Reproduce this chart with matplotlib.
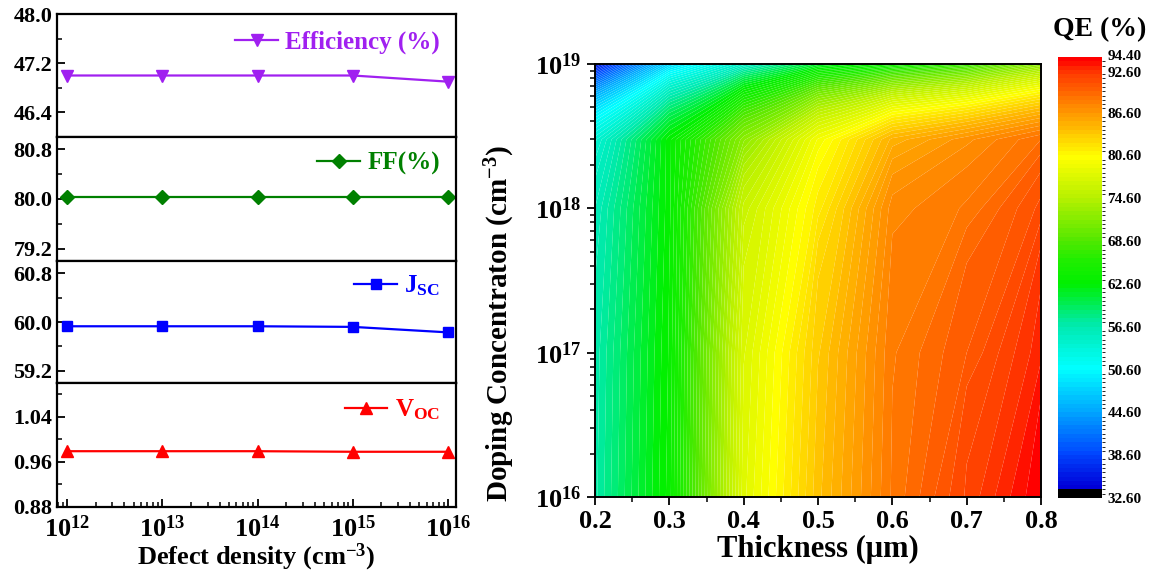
import numpy as np
import matplotlib
matplotlib.use('Agg')
import matplotlib.pyplot as plt
from matplotlib.colors import LinearSegmentedColormap, ListedColormap, BoundaryNorm
from matplotlib.ticker import FixedLocator, MultipleLocator, LogLocator, NullFormatter, FuncFormatter
from matplotlib.transforms import ScaledTranslation

# ---------------- data ----------------
defect_density = [1e12, 1e13, 1e14, 1e15, 1e16]
efficiency = [47.00, 47.00, 47.00, 47.00, 46.90]
ff = [80.03, 80.03, 80.03, 80.03, 80.03]
jsc = [59.93, 59.93, 59.93, 59.92, 59.83]
voc = [0.979, 0.979, 0.979, 0.978, 0.978]

thickness = [0.2, 0.3, 0.4, 0.5, 0.6, 0.7, 0.8]
doping = [1e16, 1e17, 1e18, 3e18, 1e19]
qe = [
    [57.0, 63.5, 78.0, 84.0, 88.5, 91.5, 94.4],
    [56.8, 63.3, 77.5, 83.5, 88.3, 90.2, 93.0],
    [56.0, 63.0, 76.0, 81.5, 87.5, 88.5, 91.0],
    [54.0, 63.0, 72.0, 79.5, 85.0, 87.0, 89.0],
    [35.0, 48.0, 55.0, 61.0, 64.0, 67.0, 72.0],
]
cbar_ticks = [32.6, 38.6, 44.6, 50.6, 56.6, 62.6, 68.6, 74.6, 80.6, 86.6, 92.6, 94.4]

# ---------------- style ----------------
plt.rcParams['font.family'] = ['Liberation Serif', 'DejaVu Serif']
plt.rcParams['font.weight'] = 'bold'
plt.rcParams['axes.labelweight'] = 'bold'
plt.rcParams['mathtext.fontset'] = 'custom'
plt.rcParams['mathtext.rm'] = 'Liberation Serif:bold'
plt.rcParams['mathtext.bf'] = 'Liberation Serif:bold'
plt.rcParams['mathtext.it'] = 'Liberation Serif:bold:italic'
plt.rcParams['mathtext.default'] = 'bf'

W, H = 1168, 578
fig = plt.figure(figsize=(W / 100, H / 100), dpi=100)


def rect(x0, y0, x1, y1):
    return [x0 / W, 1 - y1 / H, (x1 - x0) / W, (y1 - y0) / H]


def pow_fmt(v, pos):
    e = int(round(np.log10(v)))
    return r'$\mathbf{10^{%d}}$' % e


# ---------------- left stacked panels ----------------
bounds = [14, 137, 261, 383, 507]
series = [
    (efficiency, 'Efficiency (%)', '#A020F0', 'v', 9, (46.0, 48.0), [46.4, 47.2, 48.0], 0.4),
    (ff, 'FF(%)', '#008000', 'D', 7, (79.0, 81.0), [79.2, 80.0, 80.8], 0.4),
    (jsc, r'J$_{\mathbf{SC}}$', '#0000FF', 's', 7.5, (59.0, 61.0), [59.2, 60.0, 60.8], 0.4),
    (voc, r'V$_{\mathbf{OC}}$', '#FF0000', '^', 9, (0.88, 1.10), [0.88, 0.96, 1.04], 0.04),
]
fmt_list = ['%.1f', '%.1f', '%.1f', '%.2f']
leg_y = [0.946, 0.965, 0.98, 0.965]
xlim = (10 ** 11.895, 10 ** 16.084)
for i, (vals, lab, col, mk, ms, yl, yt, ymin) in enumerate(series):
    ax = fig.add_axes(rect(57, bounds[i], 456, bounds[i + 1]))
    ax.plot(defect_density, vals, color=col, marker=mk, markersize=ms, lw=1.6, label=lab)
    ax.set_xscale('log')
    ax.set_xlim(*xlim)
    ax.set_ylim(*yl)
    ax.yaxis.set_major_locator(FixedLocator(yt))
    ax.yaxis.set_minor_locator(MultipleLocator(ymin))
    ax.yaxis.set_major_formatter(FuncFormatter(lambda v, p, f=fmt_list[i]: f % v))
    ax.xaxis.set_major_locator(LogLocator(base=10, numticks=10))
    ax.xaxis.set_minor_locator(LogLocator(base=10, subs=np.arange(2, 10), numticks=20))
    ax.xaxis.set_minor_formatter(NullFormatter())
    ax.tick_params(axis='both', which='both', direction='in', top=False, right=False)
    ax.tick_params(axis='both', which='major', length=6, width=1.3, labelsize=16)
    ax.tick_params(axis='both', which='minor', length=3.5, width=1.1)
    for s in ax.spines.values():
        s.set_linewidth(1.6)
    if i < 3:
        ax.tick_params(axis='x', which='both', bottom=False, labelbottom=False)
    else:
        ax.xaxis.set_major_formatter(FuncFormatter(pow_fmt))
        ax.tick_params(axis='x', which='major', labelsize=19, pad=6)
        ax.set_xlabel(r'Defect density (cm$^{\mathbf{-3}}$)', fontsize=19, labelpad=0)
    ax.legend(loc='upper right', bbox_to_anchor=(0.985, leg_y[i]), frameon=False,
              handlelength=1.7, handletextpad=0.3, borderaxespad=0,
              prop={'family': 'Liberation Serif', 'weight': 'bold', 'size': 18},
              labelcolor='linecolor')

# ---------------- contour map ----------------
anchors = [
    (33.8, '#0000D8'), (38.6, '#0048FF'), (44.6, '#00A8FF'), (50.6, '#00FFFF'),
    (56.6, '#00EAB0'), (62.6, '#00F000'), (66.0, '#20EE00'), (68.6, '#50E800'),
    (74.6, '#B4F000'), (80.6, '#FFFF00'), (86.6, '#FF9C00'), (92.6, '#FF3800'),
    (94.4, '#FF0000'),
]
lo, hi = anchors[0][0], anchors[-1][0]
base = LinearSegmentedColormap.from_list(
    'qe', [((v - lo) / (hi - lo), c) for v, c in anchors])
levels = np.round(np.arange(32.6, 94.4001, 0.6), 2)
nb = len(levels) - 1
cols = ['black', 'black'] + [base(k / (nb - 3)) for k in range(nb - 2)]
cmap = ListedColormap(cols)
norm = BoundaryNorm(levels, cmap.N)

axc = fig.add_axes(rect(595, 64, 1041, 497))
X, Y = np.meshgrid(thickness, doping)
cf = axc.contourf(X, Y, np.array(qe), levels=levels, cmap=cmap, norm=norm, antialiased=True)
axc.set_yscale('log')
axc.set_xlim(0.2, 0.8)
axc.set_ylim(1e16, 1e19)
axc.xaxis.set_major_locator(MultipleLocator(0.1))
axc.xaxis.set_minor_locator(MultipleLocator(0.05))
axc.xaxis.set_major_formatter(FuncFormatter(lambda v, p: '%.1f' % v))
axc.yaxis.set_major_locator(LogLocator(base=10, numticks=10))
axc.yaxis.set_minor_locator(LogLocator(base=10, subs=np.arange(2, 10), numticks=20))
axc.yaxis.set_minor_formatter(NullFormatter())
axc.yaxis.set_major_formatter(FuncFormatter(pow_fmt))
axc.tick_params(axis='both', which='both', direction='out', top=False, right=False)
axc.tick_params(axis='both', which='major', length=6, width=1.3, labelsize=19)
axc.tick_params(axis='both', which='minor', length=3.5, width=1.1)
for s in axc.spines.values():
    s.set_linewidth(1.4)
axc.set_xlabel('Thickness (\u03bcm)', fontsize=22, labelpad=1)
axc.set_ylabel(r'Doping Concentraton (cm$^{\mathbf{-3}}$)', fontsize=21)
axc.yaxis.set_label_coords(-0.175, 0.40)

cax = fig.add_axes(rect(1058, 57, 1102, 498))
cb = fig.colorbar(cf, cax=cax, ticks=cbar_ticks)
cb.outline.set_visible(False)
cax.tick_params(length=0, labelsize=11, pad=4)
cax.yaxis.set_major_formatter(FuncFormatter(lambda v, p: '%.2f' % v))
ticks = cax.yaxis.get_major_ticks()
for t, dy in ((ticks[-1], 2.5), (ticks[-2], -2.5)):
    for lbl in (t.label1, t.label2):
        lbl.set_transform(lbl.get_transform() + ScaledTranslation(0, dy / 100, fig.dpi_scale_trans))
fig.text(1100 / W, 1 - 30 / H, 'QE (%)', ha='center', va='center', fontsize=20, fontweight='bold')

fig.savefig('out.png', dpi=100, facecolor='white')
